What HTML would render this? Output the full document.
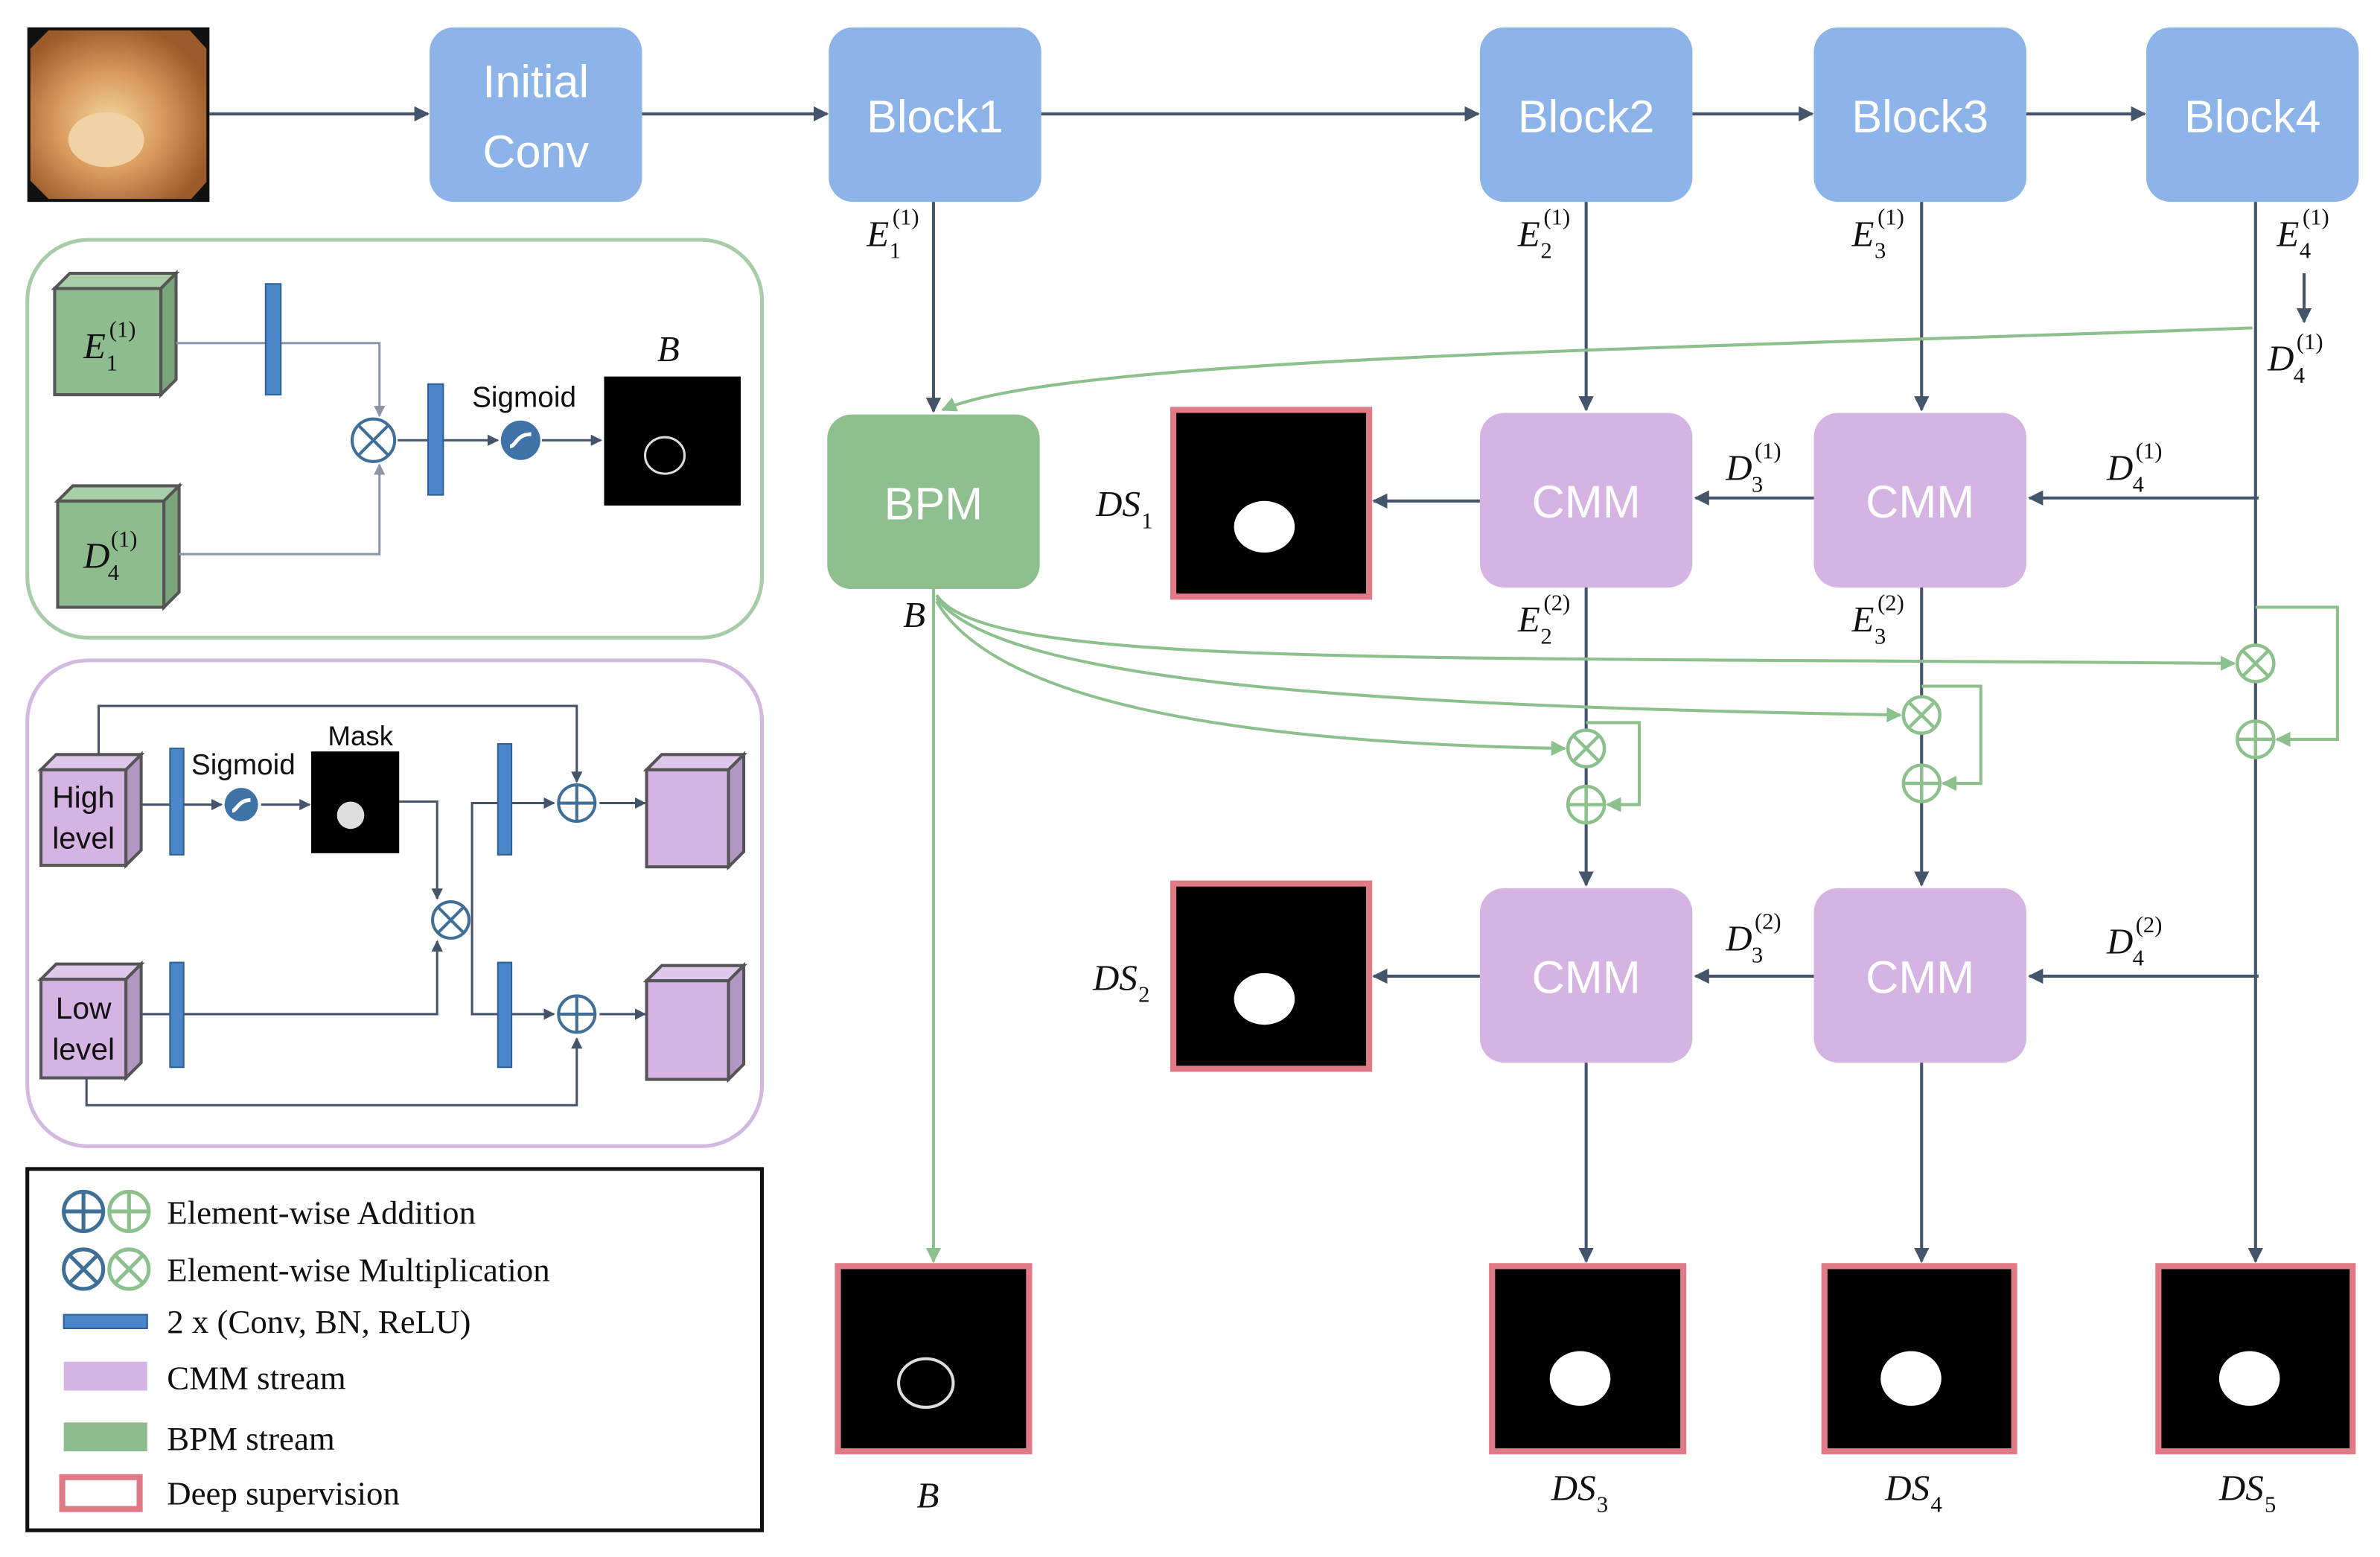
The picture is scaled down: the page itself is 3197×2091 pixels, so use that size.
<!DOCTYPE html>
<html><head><meta charset="utf-8"><style>
html,body{margin:0;padding:0;background:#fff}
svg{display:block}
.bt{font-family:"Liberation Sans",sans-serif;fill:#fff;font-size:30px;text-anchor:middle}
.m{font-family:"Liberation Serif",serif;font-style:italic;font-size:24px;fill:#111}
.ms{font-family:"Liberation Serif",serif;font-size:15px;fill:#111}
.lg{font-family:"Liberation Serif",serif;font-size:22px;fill:#111}
.sm{font-family:"Liberation Sans",sans-serif;font-size:19px;fill:#111}
</style></head><body>
<svg width="3197" height="2091" viewBox="0 0 1568 1025.6" preserveAspectRatio="none" xmlns="http://www.w3.org/2000/svg">
<defs>
<marker id="a" viewBox="0 0 10 10" refX="9" refY="5" markerWidth="5" markerHeight="5" orient="auto"><path d="M0,0L10,5L0,10z" fill="#44546a"/></marker>
<marker id="g" viewBox="0 0 10 10" refX="9" refY="5" markerWidth="5" markerHeight="5" orient="auto"><path d="M0,0L10,5L0,10z" fill="#8cc08c"/></marker>
<marker id="s" viewBox="0 0 10 10" refX="9" refY="5" markerWidth="5" markerHeight="5" orient="auto"><path d="M0,0L10,5L0,10z" fill="#8a96a8"/></marker>
<radialGradient id="ph" cx="0.45" cy="0.55" r="0.6"><stop offset="0" stop-color="#f3d7a0"/><stop offset="0.5" stop-color="#d99a5c"/><stop offset="1" stop-color="#9a5a2a"/></radialGradient>
</defs>
<rect width="1568" height="1025.6" fill="#fff"/>
<rect x="18" y="18" width="120" height="115" fill="#111"/>
<polygon points="32,20 125,20 136,32 136,120 126,131 32,131 20,119 20,32" fill="url(#ph)"/>
<ellipse cx="70" cy="92" rx="25" ry="18" fill="#f0d2a4"/>
<g fill="#8db4e8">
<rect x="283" y="18" width="140" height="115" rx="16"/>
<rect x="546" y="18" width="140" height="115" rx="16"/>
<rect x="975" y="18" width="140" height="115" rx="16"/>
<rect x="1195" y="18" width="140" height="115" rx="16"/>
<rect x="1414" y="18" width="140" height="115" rx="16"/>
</g>
<text class="bt" x="353" y="64">Initial</text><text class="bt" x="353" y="110">Conv</text>
<text class="bt" x="616" y="87">Block1</text>
<text class="bt" x="1045" y="87">Block2</text>
<text class="bt" x="1265" y="87">Block3</text>
<text class="bt" x="1484" y="87">Block4</text>
<g stroke="#44546a" stroke-width="2" fill="none" marker-end="url(#a)">
<line x1="138" y1="75" x2="282" y2="75"/>
<line x1="423" y1="75" x2="545" y2="75"/>
<line x1="686" y1="75" x2="974" y2="75"/>
<line x1="1115" y1="75" x2="1194" y2="75"/>
<line x1="1335" y1="75" x2="1413" y2="75"/>
<line x1="615" y1="133" x2="615" y2="271"/>
<line x1="1045" y1="133" x2="1045" y2="270"/>
<line x1="1266" y1="133" x2="1266" y2="270"/>
<line x1="1518" y1="180" x2="1518" y2="212"/>
<line x1="1488" y1="328" x2="1337" y2="328"/>
<line x1="1195" y1="328" x2="1117" y2="328"/>
<line x1="975" y1="330" x2="905" y2="330"/>
<line x1="1045" y1="387" x2="1045" y2="583"/>
<line x1="1266" y1="387" x2="1266" y2="583"/>
<line x1="1488" y1="643" x2="1337" y2="643"/>
<line x1="1195" y1="643" x2="1117" y2="643"/>
<line x1="975" y1="643" x2="905" y2="643"/>
<line x1="1045" y1="700" x2="1045" y2="831"/>
<line x1="1266" y1="700" x2="1266" y2="831"/>
<line x1="1486" y1="133" x2="1486" y2="831"/>
</g>
<rect x="545" y="273" width="140" height="115" rx="16" fill="#8fbf8f"/>
<text class="bt" x="615" y="342">BPM</text>
<g fill="#d5b4e4">
<rect x="975" y="272" width="140" height="115" rx="16"/>
<rect x="1195" y="272" width="140" height="115" rx="16"/>
<rect x="975" y="585" width="140" height="115" rx="16"/>
<rect x="1195" y="585" width="140" height="115" rx="16"/>
</g>
<text class="bt" x="1045" y="341">CMM</text><text class="bt" x="1265" y="341">CMM</text>
<text class="bt" x="1045" y="654">CMM</text><text class="bt" x="1265" y="654">CMM</text>
<g stroke="#8cc08c" stroke-width="2" fill="none">
<path d="M1484,216 C1100,230 700,235 621,270" marker-end="url(#g)"/>
<line x1="615" y1="388" x2="615" y2="831" marker-end="url(#g)"/>
<path d="M617,392 C650,440 900,432 1472,437" marker-end="url(#g)"/>
<path d="M617,394 C660,450 900,465 1252,471" marker-end="url(#g)"/>
<path d="M617,396 C660,470 850,490 1031,493" marker-end="url(#g)"/>
<polyline points="1045,476 1080,476 1080,530 1059,530" marker-end="url(#g)"/>
<polyline points="1266,452 1305,452 1305,516 1280,516" marker-end="url(#g)"/>
<polyline points="1486,400 1540,400 1540,487 1500,487" marker-end="url(#g)"/>
</g>
<g stroke="#8cc08c" stroke-width="2.2" fill="#fff">
<circle cx="1045" cy="493" r="12"/><circle cx="1045" cy="530" r="12"/>
<circle cx="1266" cy="471" r="12"/><circle cx="1266" cy="516" r="12"/>
<circle cx="1486" cy="437" r="12"/><circle cx="1486" cy="487" r="12"/>
<path d="M1037,485l16,16M1053,485l-16,16M1033,530h24M1045,518v24M1258,463l16,16M1274,463l-16,16M1254,516h24M1266,504v24M1478,429l16,16M1494,429l-16,16M1474,487h24M1486,475v24"/>
</g>
<g stroke="#e07a86" stroke-width="4" fill="#000">
<rect x="773" y="270" width="129" height="123"/>
<rect x="773" y="582" width="129" height="122"/>
<rect x="552" y="834" width="126" height="122"/>
<rect x="983" y="834" width="126" height="122"/>
<rect x="1202" y="834" width="125" height="122"/>
<rect x="1422" y="834" width="128" height="122"/>
</g>
<g fill="#fff">
<ellipse cx="833" cy="347" rx="20" ry="17"/>
<ellipse cx="833" cy="658" rx="20" ry="17"/>
<ellipse cx="1041" cy="908" rx="20" ry="18"/>
<ellipse cx="1259" cy="908" rx="20" ry="18"/>
<ellipse cx="1482" cy="908" rx="20" ry="18"/>
</g>
<ellipse cx="610" cy="911" rx="18" ry="16" fill="none" stroke="#ddd" stroke-width="2"/>
<g>
<text class="m" x="571" y="162">E</text><text class="ms" x="586" y="170">1</text><text class="ms" x="588" y="148">(1)</text>
<text class="m" x="1000" y="162">E</text><text class="ms" x="1015" y="170">2</text><text class="ms" x="1017" y="148">(1)</text>
<text class="m" x="1220" y="162">E</text><text class="ms" x="1235" y="170">3</text><text class="ms" x="1237" y="148">(1)</text>
<text class="m" x="1500" y="162">E</text><text class="ms" x="1515" y="170">4</text><text class="ms" x="1517" y="148">(1)</text>
<text class="m" x="1494" y="244">D</text><text class="ms" x="1511" y="252">4</text><text class="ms" x="1513" y="230">(1)</text>
<text class="m" x="1388" y="316">D</text><text class="ms" x="1405" y="324">4</text><text class="ms" x="1407" y="302">(1)</text>
<text class="m" x="1137" y="316">D</text><text class="ms" x="1154" y="324">3</text><text class="ms" x="1156" y="302">(1)</text>
<text class="m" x="1388" y="628">D</text><text class="ms" x="1405" y="636">4</text><text class="ms" x="1407" y="614">(2)</text>
<text class="m" x="1137" y="626">D</text><text class="ms" x="1154" y="634">3</text><text class="ms" x="1156" y="612">(2)</text>
<text class="m" x="1000" y="416">E</text><text class="ms" x="1015" y="424">2</text><text class="ms" x="1017" y="402">(2)</text>
<text class="m" x="1220" y="416">E</text><text class="ms" x="1235" y="424">3</text><text class="ms" x="1237" y="402">(2)</text>
<text class="m" x="722" y="340">DS</text><text class="ms" x="752" y="348">1</text>
<text class="m" x="720" y="652">DS</text><text class="ms" x="750" y="660">2</text>
<text class="m" x="595" y="413">B</text>
<text class="m" x="604" y="993">B</text>
<text class="m" x="1022" y="988">DS</text><text class="ms" x="1052" y="996">3</text>
<text class="m" x="1242" y="988">DS</text><text class="ms" x="1272" y="996">4</text>
<text class="m" x="1462" y="988">DS</text><text class="ms" x="1492" y="996">5</text>
</g>
<rect x="18" y="158" width="484" height="262" rx="40" fill="none" stroke="#a8cca8" stroke-width="2.5"/>
<g stroke="#555" stroke-width="2" fill="#8fbc8f">
<rect x="36" y="190" width="70" height="70"/><polygon points="36,190 46,180 116,180 106,190" fill="#a9cfa9"/><polygon points="106,190 116,180 116,250 106,260" fill="#7aa57a"/>
<rect x="38" y="330" width="70" height="70"/><polygon points="38,330 48,320 118,320 108,330" fill="#a9cfa9"/><polygon points="108,330 118,320 118,390 108,400" fill="#7aa57a"/>
</g>
<text class="m" x="55" y="236">E</text><text class="ms" x="70" y="244">1</text><text class="ms" x="72" y="222">(1)</text>
<text class="m" x="55" y="374">D</text><text class="ms" x="71" y="382">4</text><text class="ms" x="73" y="360">(1)</text>
<g stroke="#8a96a8" stroke-width="1.5" fill="none">
<polyline points="116,226 250,226 250,274" marker-end="url(#s)"/>
<polyline points="118,365 250,365 250,306" marker-end="url(#s)"/>
</g>
<g stroke="#44546a" stroke-width="1.5" fill="none" marker-end="url(#a)">
<line x1="262" y1="290" x2="328" y2="290"/><line x1="357" y1="290" x2="396" y2="290"/>
</g>
<circle cx="246" cy="290" r="14" fill="#fff" stroke="#3f6e96" stroke-width="2"/>
<path d="M236,280l20,20M256,280l-20,20" stroke="#3f6e96" stroke-width="2"/>
<rect x="175" y="187" width="10" height="73" fill="#4a86c8" stroke="#2e5f95"/>
<rect x="282" y="253" width="10" height="73" fill="#4a86c8" stroke="#2e5f95"/>
<circle cx="343" cy="290" r="13" fill="#3f73a8"/><path d="M336,294c4,0 4,-8 14,-8" stroke="#fff" stroke-width="2.5" fill="none"/>
<text class="sm" x="311" y="268">Sigmoid</text>
<text class="m" x="433" y="238">B</text>
<rect x="398" y="248" width="90" height="85" fill="#000"/>
<ellipse cx="438" cy="300" rx="13" ry="12" fill="none" stroke="#ddd" stroke-width="1.5"/>
<rect x="18" y="435" width="484" height="320" rx="40" fill="none" stroke="#d3b8e0" stroke-width="2.5"/>
<g stroke="#555" stroke-width="2" fill="#d5b4e4">
<rect x="27" y="507" width="56" height="63"/><polygon points="27,507 37,497 93,497 83,507" fill="#e0c8ec"/><polygon points="83,507 93,497 93,560 83,570" fill="#b397c3"/>
<rect x="27" y="645" width="56" height="65"/><polygon points="27,645 37,635 93,635 83,645" fill="#e0c8ec"/><polygon points="83,645 93,635 93,700 83,710" fill="#b397c3"/>
<rect x="426" y="507" width="54" height="64"/><polygon points="426,507 436,497 490,497 480,507" fill="#e0c8ec"/><polygon points="480,507 490,497 490,561 480,571" fill="#b397c3"/>
<rect x="426" y="646" width="54" height="65"/><polygon points="426,646 436,636 490,636 480,646" fill="#e0c8ec"/><polygon points="480,646 490,636 490,701 480,711" fill="#b397c3"/>
</g>
<text class="sm" x="55" y="532" text-anchor="middle" style="font-size:20px">High</text><text class="sm" x="55" y="559" text-anchor="middle" style="font-size:20px">level</text>
<text class="sm" x="55" y="671" text-anchor="middle" style="font-size:20px">Low</text><text class="sm" x="55" y="698" text-anchor="middle" style="font-size:20px">level</text>
<g stroke="#44546a" stroke-width="1.5" fill="none">
<polyline points="65,497 65,465 380,465 380,515" marker-end="url(#a)"/>
<line x1="93" y1="530" x2="112" y2="530"/>
<line x1="121" y1="530" x2="146" y2="530" marker-end="url(#a)"/>
<line x1="172" y1="530" x2="204" y2="530" marker-end="url(#a)"/>
<polyline points="263,528 288,528 288,592" marker-end="url(#a)"/>
<polyline points="93,668 288,668 288,620" marker-end="url(#a)"/>
<polyline points="311,606 311,529 328,529"/><line x1="337" y1="529" x2="365" y2="529" marker-end="url(#a)"/>
<polyline points="311,606 311,668 328,668"/><line x1="337" y1="668" x2="365" y2="668" marker-end="url(#a)"/>
<line x1="395" y1="529" x2="425" y2="529" marker-end="url(#a)"/>
<line x1="395" y1="668" x2="425" y2="668" marker-end="url(#a)"/>
<polyline points="57,710 57,728 380,728 380,684" marker-end="url(#a)"/>
</g>
<g fill="#4a86c8" stroke="#2e5f95">
<rect x="112" y="493" width="9" height="70"/><rect x="112" y="634" width="9" height="69"/>
<rect x="328" y="490" width="9" height="73"/><rect x="328" y="634" width="9" height="69"/>
</g>
<circle cx="159" cy="530" r="11" fill="#3f73a8"/><path d="M153,534c3,0 4,-7 12,-7" stroke="#fff" stroke-width="2.5" fill="none"/>
<text class="sm" x="126" y="510">Sigmoid</text>
<text class="sm" x="216" y="491" style="font-size:18px">Mask</text>
<rect x="205" y="495" width="58" height="67" fill="#000"/>
<ellipse cx="231" cy="537" rx="9" ry="9" fill="#ddd"/>
<g stroke="#3f6e96" stroke-width="2" fill="#fff">
<circle cx="297" cy="606" r="12"/><path d="M289,598l16,16M305,598l-16,16"/>
<circle cx="380" cy="529" r="12"/><path d="M368,529h24M380,517v24"/>
<circle cx="380" cy="668" r="12"/><path d="M368,668h24M380,656v24"/>
</g>
<rect x="18" y="770" width="484" height="238" fill="none" stroke="#111" stroke-width="2.5"/>
<g stroke-width="2.5" fill="#fff">
<circle cx="55" cy="798" r="13" stroke="#3f6e96"/><path d="M42,798h26M55,785v26" stroke="#3f6e96"/>
<circle cx="85" cy="798" r="13" stroke="#8cc08c"/><path d="M72,798h26M85,785v26" stroke="#8cc08c"/>
<circle cx="55" cy="836" r="13" stroke="#3f6e96"/><path d="M46,827l18,18M64,827l-18,18" stroke="#3f6e96"/>
<circle cx="85" cy="836" r="13" stroke="#8cc08c"/><path d="M76,827l18,18M94,827l-18,18" stroke="#8cc08c"/>
</g>
<rect x="42" y="866" width="55" height="9" fill="#4a86c8" stroke="#2e5f95"/>
<rect x="42" y="897" width="55" height="19" fill="#d5b4e4"/>
<rect x="42" y="937" width="55" height="19" fill="#8fbc8f"/>
<rect x="41" y="973" width="51" height="21" fill="#fff" stroke="#e07a86" stroke-width="4"/>
<text class="lg" x="110" y="806">Element-wise Addition</text>
<text class="lg" x="110" y="844">Element-wise Multiplication</text>
<text class="lg" x="110" y="878">2 x (Conv, BN, ReLU)</text>
<text class="lg" x="110" y="915">CMM stream</text>
<text class="lg" x="110" y="955">BPM stream</text>
<text class="lg" x="110" y="991">Deep supervision</text>
</svg>
</body></html>
